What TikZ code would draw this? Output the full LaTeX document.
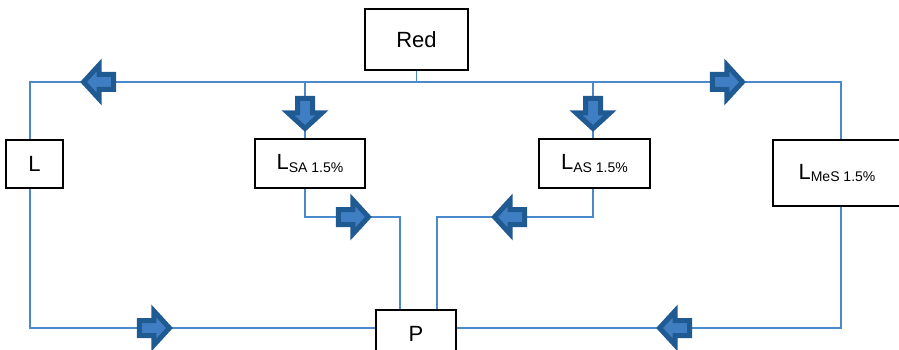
\documentclass[tikz,border=0pt]{standalone}
\usepackage{fontspec}
\setmainfont{Liberation Sans}
\usetikzlibrary{shapes.arrows, positioning}
\definecolor{wire}{HTML}{4A89CB}
\definecolor{flowdark}{HTML}{205A92}
\definecolor{flowlight}{HTML}{3F7EC2}
\tikzset{
    box/.style={draw=black, line width=1.8pt, fill=white, inner sep=0pt, font=\fontsize{22}{26}\selectfont}, % the boxes
    wire/.style={draw=wire, line width=1.8pt},
    flow/.style={single arrow, draw=flowdark, fill=flowlight, line width=5pt, line join=miter,
        inner xsep=0pt, inner ysep=5pt, text height=0pt, text depth=0pt,
        single arrow head extend=9.5pt, single arrow tip angle=95, minimum height=30pt}
}
\newcommand{\sub}[1]{\raisebox{-2.5pt}{\fontsize{14}{16}\selectfont #1}}

\begin{document}
\begin{tikzpicture}[x=1pt, y=-1pt]
    \useasboundingbox (0,0) rectangle (899,350);
    \begin{scope}
    \clip (0,0) rectangle (899,350);
    \node[box, minimum width=103pt, minimum height=61pt] (red) at (416.5,39.5) {Red};
    \node[box, minimum width=57pt, minimum height=48pt] (l) at (34.5,164) {L};
    \node[box, minimum width=110pt, minimum height=49pt] (lsa) at (310,163.5) {L\sub{SA 1.5\%}};
    \node[box, minimum width=111pt, minimum height=49pt] (las) at (594.5,163.5) {L\sub{AS 1.5\%}};
    \node[box, minimum width=128pt, minimum height=66pt] (lmes) at (837,173) {L\sub{MeS 1.5\%}};
    \node[box, minimum width=80pt, minimum height=48pt] (p) at (416,334) {P};
    \end{scope}

    \coordinate (tl) at (30,82);
    \coordinate (tr) at (841,82);
    \coordinate (bl) at (30,328);
    \coordinate (br) at (841,328);
    \coordinate (sa) at (305,82);
    \coordinate (as) at (593,82);
    \coordinate (sab) at (305,217);
    \coordinate (asb) at (593,217);
    \coordinate (pa) at (400,217);
    \coordinate (pb) at (437,217);

    % top bus
    \draw[wire] (red.south) -- (red.south |- tl);
    \draw[wire] (tl |- l.north) -- (tl) -- (tr) -- (tr |- lmes.north);
    \draw[wire] (sa) -- (sa |- lsa.north);
    \draw[wire] (as) -- (as |- las.north);
    % down to P
    \draw[wire] (sa |- lsa.south) -- (sab) -- (pa) -- (pa |- p.north);
    \draw[wire] (as |- las.south) -- (asb) -- (pb) -- (pb |- p.north);
    \draw[wire] (tl |- l.south) -- (bl) -- (bl -| p.west);
    \draw[wire] (tr |- lmes.south) -- (br) -- (br -| p.east);

    % flow arrows
    \node[flow, rotate=180] (a1) at (102,82) {};
    \node[flow, rotate=270] (a2) at (305,110) {};
    \node[flow, rotate=270] (a3) at (593,110) {};
    \node[flow] (a4) at (724,82) {};
    \node[flow] (a5) at (350,217) {};
    \node[flow, rotate=180] (a6) at (513,217) {};
    \node[flow] (a7) at (151,328) {};
    \node[flow, rotate=180] (a8) at (678,328) {};
\end{tikzpicture}
\end{document}
